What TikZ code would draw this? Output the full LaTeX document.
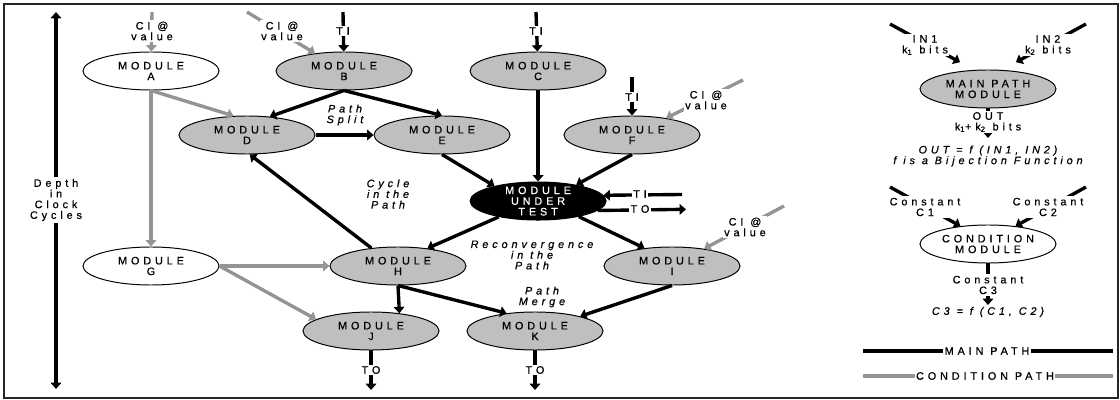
\documentclass[tikz,border=0pt]{standalone}
\usepackage{fontspec}
\setmainfont{Liberation Sans}[LetterSpace=36,FakeBold=0.7]
\usepackage{tikz}
\usetikzlibrary{positioning,arrows.meta,shapes.geometric}

\definecolor{modgray}{gray}{0.75}
\definecolor{condgray}{gray}{0.58}

\begin{document}
\begin{tikzpicture}[
x=0.025cm, y=-0.025cm,
>={Triangle[length=4.5pt,width=7.5pt]},
txt/.style={
font=\fontsize{7.7}{7.6}\selectfont,
align=center,
inner sep=1pt
},
note/.style={
txt,
font=\fontsize{7.7}{7.6}\selectfont\itshape
},
tag/.style={
txt,
fill=white
},
module/.style={
txt,
ellipse,
draw,
line width=0.7pt,
fill=modgray,
minimum width=3.4cm,
minimum height=0.95cm,
inner sep=0pt
},
main/.style={
line width=2.4pt
},
cond/.style={
line width=2.4pt,
condgray
}
]

\useasboundingbox (0,0) rectangle (1120,400);
\draw[line width=1.2pt, black!85] (4,4) rectangle (1118,398);

%%%%%%%%%%%%%%%%%%%%%%%%%%%%%%%%%%%%%%%%%%%%%
% Modules
%%%%%%%%%%%%%%%%%%%%%%%%%%%%%%%%%%%%%%%%%%%%%

\node[module, fill=white] (A) at (151,71) {MODULE\\A};

\node[module, right=1.4cm of A] (B) {MODULE\\B};

\node[module, right=1.425cm of B] (C) {MODULE\\C};

\node[module] (D) at (247,135) {MODULE\\D};

\node[module, right=1.45cm of D] (E) {MODULE\\E};

\node[module] (F) at (632,135) {MODULE\\F};

\node[module, fill=black, text=white, inner ysep=-2.5pt, below=2.275cm of C] (mut)
{MODULE\\UNDER\\TEST};

\node[module, fill=white] (G) at (151,266) {MODULE\\G};

\node[module] (H) at (398,266) {MODULE\\H};

\node[module] (I) at (672,266) {MODULE\\I};

\node[module] (J) at (371,331) {MODULE\\J};

\node[module] (K) at (535,331) {MODULE\\K};

%%%%%%%%%%%%%%%%%%%%%%%%%%%%%%%%%%%%%%%%%%%%%
% Legend modules
%%%%%%%%%%%%%%%%%%%%%%%%%%%%%%%%%%%%%%%%%%%%%

\node[module] (mpm) at (988,89) {MAIN PATH\\MODULE};

\node[module, fill=white] (cm) at (988,244) {CONDITION\\MODULE};

%%%%%%%%%%%%%%%%%%%%%%%%%%%%%%%%%%%%%%%%%%%%%
% Free ends
%%%%%%%%%%%%%%%%%%%%%%%%%%%%%%%%%%%%%%%%%%%%%

\coordinate (ciA) at (152,12);
\coordinate (ciB) at (247,12);
\coordinate (tiB) at (343,12);
\coordinate (tiC) at (536,12);
\coordinate (tiF) at (632,77);
\coordinate (ciF) at (743,80);
\coordinate (tiM) at (682,194.5);
\coordinate (toM) at (686,209.3);
\coordinate (ciI) at (784,206);
\coordinate (toJ) at (371,390);
\coordinate (toK) at (535,390);
\coordinate (dtop) at (56,12);
\coordinate (dbot) at (56,389);
\coordinate (in1) at (890,24);
\coordinate (in2) at (1086,24);
\coordinate (outE) at (988,138);
\coordinate (c1) at (890,187);
\coordinate (c2) at (1086,187);
\coordinate (c3E) at (988,305);
\coordinate (mpL) at (863,351);
\coordinate (mpR) at (1113,351);
\coordinate (cpL) at (863,376);
\coordinate (cpR) at (1113,376);

%%%%%%%%%%%%%%%%%%%%%%%%%%%%%%%%%%%%%%%%%%%%%
% Connections
%%%%%%%%%%%%%%%%%%%%%%%%%%%%%%%%%%%%%%%%%%%%%

\draw[cond,->] (ciA)--(A);

\draw[cond,->] (ciB)--(B);

\draw[main,->] (tiB)--(B);

\draw[main,->] (tiC)--(C);

\draw[main,->] (tiF)--(F);

\draw[cond,->] (ciF)--(F);

\draw[cond,->] (A.south)--(D.125);

\draw[cond,->] (A.south)--(G.north);

\draw[main,->] (B.south)--(D.39);

\draw[main,->] (B.south)--(E.north);

\draw[main,->] (D)--(E);

\draw[main,->] (C.south)--(mut.north);

\draw[main,->] (E.south)--(mut.161);

\draw[main,->] (F.south)--(mut.23);

\draw[main,->] (tiM)--(mut.5);

\draw[main,->] (mut.-9)--(toM);

\draw[main,->] (H.146)--(D.-82);

\draw[main,->] (mut.-158)--(H.31);

\draw[main,->] (mut.-21)--(I.147);

\draw[cond,->] (ciI)--(I);

\draw[cond,->] (G)--(H);

\draw[cond,->] (G.east)--(J.168);

\draw[main,->] (H.south)--(J.32);

\draw[main,->] (H.south)--(K.148);

\draw[main,->] (I.south)--(K.18);

\draw[main,->] (J)--(toJ);

\draw[main,->] (K)--(toK);

%%%%%%%%%%%%%%%%%%%%%%%%%%%%%%%%%%%%%%%%%%%%%
% Legend connections
%%%%%%%%%%%%%%%%%%%%%%%%%%%%%%%%%%%%%%%%%%%%%

\draw[main,->,shorten >=0.4cm] (in1)--(mpm.126);

\draw[main,->,shorten >=0.4cm] (in2)--(mpm.54);

\draw[main,->] (mpm)--(outE);

\draw[main,->] (c1)--(cm.147);

\draw[main,->] (c2)--(cm.33);

\draw[main,->] (cm)--(c3E);

\draw[main] (mpL)--(mpR);

\draw[cond] (cpL)--(cpR);

%%%%%%%%%%%%%%%%%%%%%%%%%%%%%%%%%%%%%%%%%%%%%
% Labels
%%%%%%%%%%%%%%%%%%%%%%%%%%%%%%%%%%%%%%%%%%%%%

\node[tag] (ciAlab) at (152,31) {CI @\\value};
\node[tag] (ciBlab) at (282,31) {CI @\\value};
\node[tag] (tiBlab) at (343,31) {TI};
\node[tag] (tiClab) at (536,31) {TI};
\node[tag] (tiFlab) at (632,97) {TI};
\node[tag] (ciFlab) at (706,100) {CI @\\value};
\node[tag] (tiMlab) at (640,194) {TI};
\node[tag] (toMlab) at (640,209) {TO};
\node[tag] (ciIlab) at (745,227) {CI @\\value};
\node[tag] (toJlab) at (371,370) {TO};
\node[tag] (toKlab) at (535,370) {TO};

\node[tag] (depth) at (56,200) {Depth\\in\\Clock\\Cycles};
\draw[main,->] (depth)--(dtop);
\draw[main,->] (depth)--(dbot);

\node[note] (split) at (345,115) {Path\\Split};
\node[note] (cycle) at (388,194) {Cycle\\in the\\Path};
\node[note] (reconv) at (532,255) {Reconvergence\\in the\\Path};
\node[note] (merge) at (542,297) {Path\\Merge};

\node[tag] (in1lab) at (925,45) {IN1\\k\textsubscript{1} bits};
\node[tag] (in2lab) at (1048,45) {IN2\\k\textsubscript{2} bits};
\node[tag] (outlab) at (988,122) {OUT\\k\textsubscript{1}+k\textsubscript{2} bits};
\node[note] (bij) at (988,156) {OUT = f (IN1, IN2)\\f is a Bijection Function};

\node[tag] (c1lab) at (925,207) {Constant\\C1};
\node[tag] (c2lab) at (1048,207) {Constant\\C2};
\node[tag] (c3lab) at (988,285) {Constant\\C3};
\node[note] (cfun) at (988,312) {C3 = f (C1, C2)};

\node[tag] (mplab) at (987,351) {MAIN PATH};
\node[tag] (cplab) at (985,376) {CONDITION PATH};

\end{tikzpicture}
\end{document}
